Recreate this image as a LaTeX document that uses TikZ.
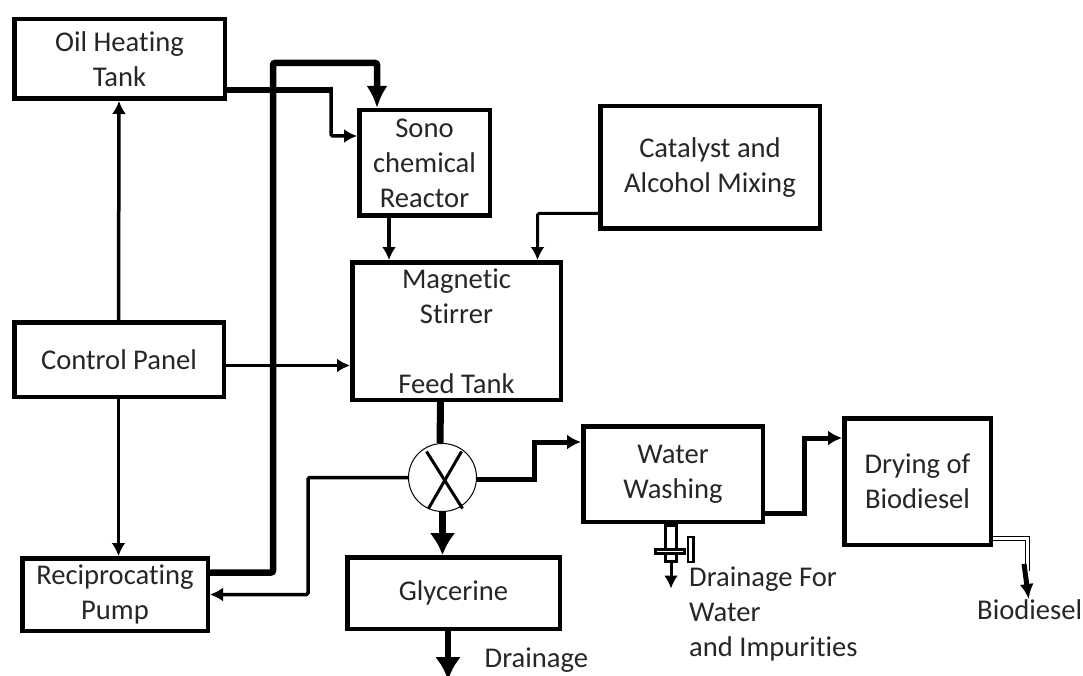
\documentclass[tikz,border=0pt]{standalone}
\usepackage{fontspec}
\setmainfont{Carlito}[Ligatures=NoCommon]
\usepackage{tikz}
\usetikzlibrary{arrows.meta,positioning,calc}

\begin{document}
\begin{tikzpicture}[every node/.style={font=\fontsize{28.6}{35}\selectfont,text=black!85},
  box/.style={draw,line width=4.5pt,align=center,inner sep=0pt},
  label/.style={align=left,inner sep=0pt},
  thinflow/.style={-{Latex[length=13pt,width=14pt]},line width=3.5pt,rounded corners=1.5pt},
  midflow/.style={-{Latex[length=14pt,width=15pt]},line width=5pt},
  bigflow/.style={-{Latex[length=22pt,width=21pt]},line width=6.5pt,rounded corners=2pt},
  valvepart/.style={draw,line width=2.5pt,fill=white,inner sep=0pt}]
\useasboundingbox (0,0) rectangle (1083pt,-676pt);
\node[box,minimum width=210.5pt,minimum height=79.5pt,anchor=north west] (oil) at (12pt,-17pt) {Oil Heating\\Tank};
\node[box,minimum width=209.5pt,minimum height=74.5pt,below right=219pt and 0pt of oil.south west] (control) {Control Panel};
\node[box,minimum width=185.5pt,minimum height=72.5pt,below right=157pt and 8pt of control.south west] (pump) {Reciprocating\\Pump};
\node[box,minimum width=130.5pt,minimum height=105.5pt,below right=91pt and 130pt of oil.north east] (sono) {Sono\\chemical\\Reactor};
\node[box,minimum width=208.5pt,minimum height=137.5pt,below right=42pt and -7pt of sono.south west] (stirrer) {Magnetic\\Stirrer\\ \\Feed Tank};
\node[box,minimum width=219.5pt,minimum height=122.5pt,below right=-4pt and 106pt of sono.north east] (catalyst) {Catalyst and\\Alcohol Mixing};
\node[box,minimum width=212.5pt,minimum height=71.5pt,below right=153pt and -5pt of stirrer.south west] (glycerine) {Glycerine};
\node[box,minimum width=179.5pt,minimum height=95.5pt,below right=22pt and 18pt of stirrer.south east] (water) {Water\\Washing};
\node[box,minimum width=146.5pt,minimum height=126.5pt,below right=-8pt and 77pt of water.north east] (drying) {Drying of\\Biodiesel};
\node[draw,circle,line width=1pt,minimum size=68pt,inner sep=0pt,below=41pt of stirrer.south,xshift=-14pt] (mixer) {};
\node[valvepart,minimum width=11pt,minimum height=36pt,below=0pt of water.south,xshift=-2pt] (valvestem) {};
\node[valvepart,minimum width=29pt,minimum height=4pt] (valvebar) at ([xshift=-1pt,yshift=-8pt]valvestem.center) {};
\node[valvepart,minimum width=5.5pt,minimum height=25pt,right=1pt of valvebar,yshift=2pt] (valvehandle) {};
\node[label,below right=43pt and -76pt of water.south east] (drainwater) {Drainage For\\Water\\and Impurities};
\node[label,below right=17pt and 31pt of glycerine.south] (drainglycerine) {Drainage};
\node[label,below right=52pt and -16pt of drying.south east] (biodiesel) {Biodiesel};
\coordinate[below right=46pt and 46pt of oil.north east] (pipetop);
\coordinate[below right=73pt and 104pt of oil.north east] (oilbend);
\coordinate[left=100pt of mixer.west] (mixerbend);
\coordinate[right=57pt of mixer.east,yshift=-2pt] (mixerout);
\coordinate[below right=39pt and 39pt of water.east] (washbend);
\coordinate[below right=24pt and 34pt of drying.south east] (dryend);
\coordinate[below=49pt of glycerine.south,xshift=-5.5pt] (drainend);
\coordinate[below=26pt of valvestem.south] (valveend);
\draw[line width=3pt] ($(mixer.center)+(-16pt,26pt)$)--($(mixer.center)+(20pt,-31pt)$);
\draw[line width=3pt] ($(mixer.center)+(19pt,26pt)$)--($(mixer.center)+(-14pt,-31pt)$);
\draw[bigflow] ([yshift=22pt]pump.east) -| (pipetop) -| ([xshift=-47.5pt]sono.north);
\draw[line width=6.5pt] ([yshift=-31pt]oil.east) -- (oilbend);
\draw[thinflow] ([yshift=3pt]oilbend) |- ([yshift=27pt]sono.west);
\draw[thinflow] ([xshift=-35.5pt]sono.south) -- ([xshift=-35.5pt]sono.south |- stirrer.north);
\draw[thinflow,line width=3pt] ([yshift=-46pt]catalyst.west) -| ([xshift=81pt]stirrer.north);
\draw[thinflow] ([xshift=-0.5pt]control.north) -- ([xshift=-0.5pt]oil.south);
\draw[thinflow] ([yshift=-6pt]control.east) -- ([yshift=-6pt]control.east -| stirrer.west);
\draw[thinflow] ([xshift=-0.5pt]control.south) -- ([xshift=-0.5pt]control.south |- pump.north);
\draw[line width=7pt] ([xshift=-16pt]stirrer.south) -- ([xshift=-2.5pt]mixer.north);
\draw[bigflow,-{Latex[length=22pt,width=26pt]}] (mixer.south) -- (mixer.south |- glycerine.north);
\draw[thinflow] (mixer.west) -- (mixerbend) |- (pump.east);
\draw[midflow] ([yshift=-2pt]mixer.east) -- (mixerout) |- ([yshift=32pt]water.west);
\draw[midflow] ([yshift=-39pt]water.east) -- (washbend) |- ([yshift=43.5pt]drying.west);
\draw[bigflow,line width=6pt,-{Latex[length=23pt,width=26pt]}] ([xshift=-5.5pt]glycerine.south) -- (drainend);
\draw[thinflow,line width=3pt] (valvestem.south) -- (valveend);
\draw[double,line width=1pt,double distance=3pt] ([yshift=-56.5pt]drying.east) -| (dryend);
\draw[midflow,-{Latex[length=15pt,width=14pt]}] ([xshift=-3pt,yshift=7pt]dryend) -- ([xshift=-1pt]biodiesel.north);
\end{tikzpicture}
\end{document}
